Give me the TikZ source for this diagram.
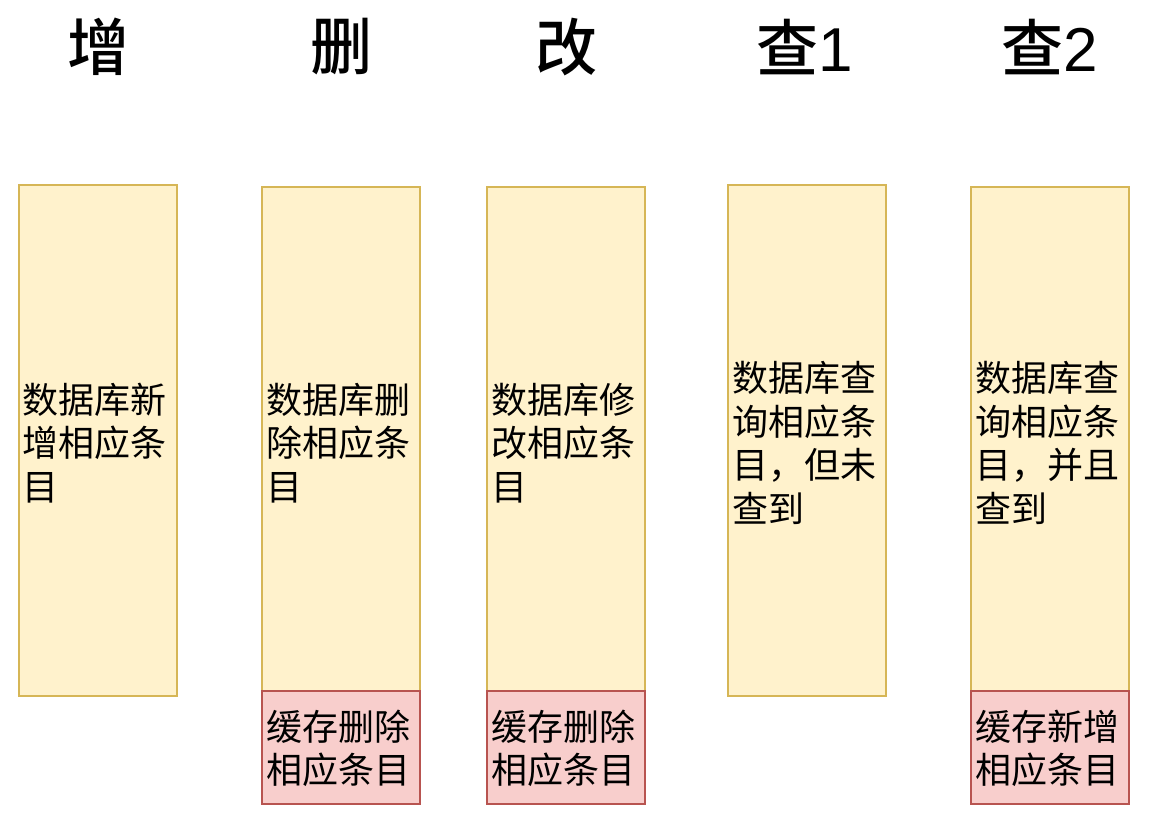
\documentclass[tikz,border=0pt]{standalone}
\usepackage{fontspec}
\setmainfont{Noto Sans CJK SC}
\newfontfamily\latfont{Liberation Sans}
\newfontfamily\medfont{Noto Sans CJK SC Medium}
\tikzset{
  ybox/.style={draw=dbyellow, fill=lyellow, line width=1.6pt, inner sep=0pt},
  rbox/.style={draw=dbred, fill=lred, line width=1.6pt, inner sep=0pt},
  btext/.style={inner sep=0pt, text width=150pt, align=left, font=\fontsize{36}{43.5}\selectfont},
  ttl/.style={inner sep=0pt, font=\medfont\fontsize{62}{66}\selectfont}
}
\definecolor{lyellow}{HTML}{FFF2CC}
\definecolor{dbyellow}{HTML}{D6B656}
\definecolor{lred}{HTML}{F8CECC}
\definecolor{dbred}{HTML}{B85450}
\begin{document}
\begin{tikzpicture}[x=1pt,y=-1pt]
\useasboundingbox (0,0) rectangle (1152,830);
% boxes
\draw[ybox] (19,185) rectangle (177,696);
\draw[ybox] (262,187) rectangle (420,691);
\draw[rbox] (262,691) rectangle (420,804);
\draw[ybox] (487,187) rectangle (645,691);
\draw[rbox] (487,691) rectangle (645,804);
\draw[ybox] (728,185) rectangle (886,696);
\draw[ybox] (971,187) rectangle (1129,691);
\draw[rbox] (971,691) rectangle (1129,804);
% titles
\node[ttl] (t1) at (98,47) {增};
\node[ttl] (t2) at (341,47) {删};
\node[ttl] (t3) at (566,47) {改};
\node[ttl] (t4) at (805,47) {查\latfont 1};
\node[ttl] (t5) at (1050,47) {查\latfont 2};
% texts
\node[btext] (x1) at (98,443) {数据库新\\增相应条\\目};
\node[btext] (x2) at (341,443) {数据库删\\除相应条\\目};
\node[btext] (x3) at (566,443) {数据库修\\改相应条\\目};
\node[btext] (x4) at (807,443) {数据库查\\询相应条\\目，但未\\查到};
\node[btext] (x5) at (1050,443) {数据库查\\询相应条\\目，并且\\查到};
\node[btext] (r2) at (341,748.5) {缓存删除\\相应条目};
\node[btext] (r3) at (566,748.5) {缓存删除\\相应条目};
\node[btext] (r5) at (1050,748.5) {缓存新增\\相应条目};
\end{tikzpicture}
\end{document}
